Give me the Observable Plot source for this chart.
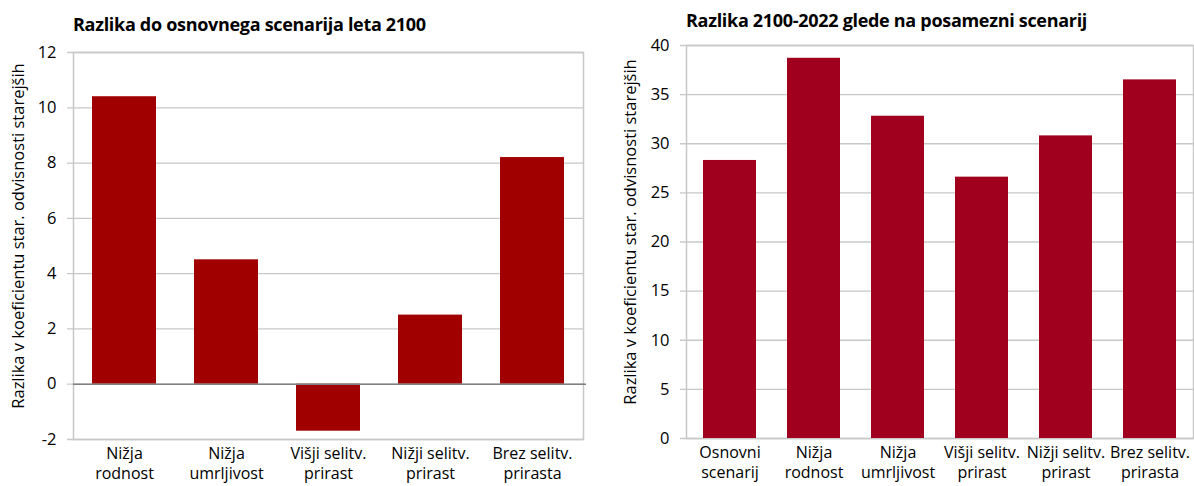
<!DOCTYPE html>
<html>
<head>
<meta charset="utf-8">
<script src="https://cdn.jsdelivr.net/npm/d3@7"></script>
<script src="https://cdn.jsdelivr.net/npm/@observablehq/plot@0.6"></script>
<style>
  html, body { margin: 0; padding: 0; background: #fff; }
  #wrap { position: relative; width: 1194px; height: 486px; font-family: "Open Sans", sans-serif; }
  .panel { position: absolute; top: 0; }
  .title { position: absolute; font-weight: bold; font-size: 18px; color: #000; white-space: nowrap; letter-spacing: -0.3px; }
  .panel svg { position: absolute; left: 0; top: 0; }
</style>
</head>
<body>
<div id="wrap">
  <div class="panel" id="left" style="left:0;width:600px;height:486px;"></div>
  <div class="panel" id="right" style="left:600px;width:594px;height:486px;"></div>
</div>
<script>
const leftTitle = "Razlika do osnovnega scenarija leta 2100";
const rightTitle = "Razlika 2100-2022 glede na posamezni scenarij";
const yLabel = "Razlika v koeficientu star. odvisnosti starejših";

const leftCategories = ["Nižja\nrodnost", "Nižja\numrljivost", "Višji selitv.\nprirast", "Nižji selitv.\nprirast", "Brez selitv.\nprirasta"];
const leftValues = [10.4, 4.5, -1.7, 2.5, 8.2];
const leftTicks = [-2, 0, 2, 4, 6, 8, 10, 12];

const rightCategories = ["Osnovni\nscenarij", "Nižja\nrodnost", "Nižja\numrljivost", "Višji selitv.\nprirast", "Nižji selitv.\nprirast", "Brez selitv.\nprirasta"];
const rightValues = [28.3, 38.7, 32.8, 26.6, 30.8, 36.5];
const rightTicks = [0, 5, 10, 15, 20, 25, 30, 35, 40];

const leftData = leftCategories.map((c, i) => ({cat: c, v: leftValues[i]}));
const rightData = rightCategories.map((c, i) => ({cat: c, v: rightValues[i]}));

const gridColor = "#c8c8c8";
const fontStyle = {fontFamily: "'Open Sans', sans-serif", fontSize: "16px", color: "#000", background: "transparent", overflow: "visible"};

function panel(el, title, data, cats, ticks, domain, color, m, zeroLine) {
  const t = document.createElement("div");
  t.className = "title";
  t.textContent = title;
  t.style.left = m.titleLeft + "px";
  t.style.top = m.titleTop + "px";
  const chart = Plot.plot({
    width: m.width,
    height: 486,
    marginLeft: m.left,
    marginRight: m.right,
    marginTop: m.top,
    marginBottom: m.bottom,
    style: fontStyle,
    x: {domain: cats, paddingInner: 0.37, paddingOuter: 0.185, label: null},
    y: {domain: domain, ticks: ticks, label: null},
    marks: [
      Plot.gridY(ticks, {stroke: gridColor, strokeOpacity: 1, strokeWidth: 1.3, insetLeft: -6}),
      Plot.frame({stroke: gridColor, strokeWidth: 1.5}),
      Plot.barY(data, {x: "cat", y: "v", fill: color}),
      zeroLine ? Plot.ruleY([0], {stroke: "#808080", strokeWidth: 1.5, insetRight: -3}) : null,
      Plot.axisY(ticks, {tickSize: 0, tickPadding: 17, fontSize: 16.5, tickFormat: d => d < 0 ? "-" + Math.abs(d) : String(d)}),
      Plot.axisX({tickSize: 0, tickPadding: 5, fontSize: 16, lineHeight: 1.25}),
      Plot.text([yLabel], {frameAnchor: "left", rotate: -90, dx: -m.left + m.labelX, dy: m.labelDy, fontSize: 16.5, fill: "#000", textAnchor: "middle"})
    ]
  });
  el.appendChild(chart);
  el.appendChild(t);
}

panel(document.getElementById("left"), leftTitle, leftData, leftCategories, leftTicks, [-2, 12], "#a00000",
  {width: 600, left: 73, right: 17, top: 52, bottom: 47, titleLeft: 73, titleTop: 12, labelX: 18, labelDy: -10}, true);
panel(document.getElementById("right"), rightTitle, rightData, rightCategories, rightTicks, [0, 40], "#a0001e",
  {width: 594, left: 86, right: 1, top: 45, bottom: 48, titleLeft: 86, titleTop: 8, labelX: 30, labelDy: -10}, false);
</script>
</body>
</html>
